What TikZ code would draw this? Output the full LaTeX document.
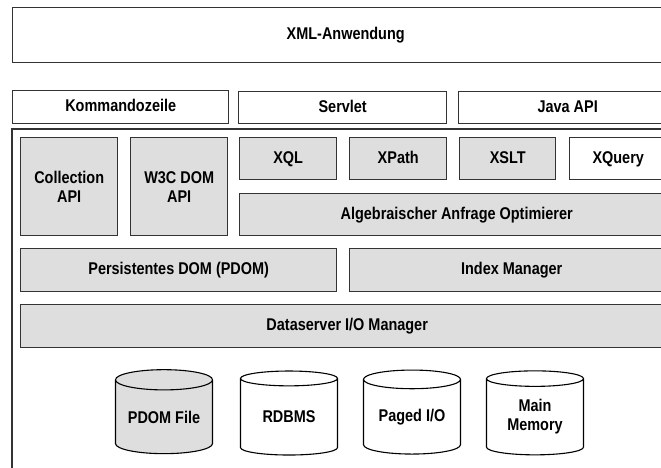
\documentclass[tikz,border=0pt]{standalone}
\usepackage{fontspec}
\setmainfont[FakeStretch=0.85]{Liberation Sans}
\usetikzlibrary{shapes.geometric}

\definecolor{boxgray}{HTML}{DEDEDE}
\definecolor{linegray}{HTML}{333333}

\tikzset{
  layer/.style={draw=linegray, line width=1.4pt, fill=boxgray, inner sep=0pt,
    anchor=north west, align=center, font=\fontsize{17}{19}\selectfont\bfseries},
  plain/.style={layer, fill=white},
  oneline/.style={text height=12.5pt, text depth=3.5pt},
  store/.style={cylinder, shape border rotate=90, aspect=0.28, draw=black,
    line width=1.1pt, fill=white, inner sep=0pt, minimum width=97pt,
    minimum height=84pt, align=center, font=\fontsize{17}{19}\selectfont\bfseries}
}

\begin{document}
\begin{tikzpicture}[x=1pt, y=-1pt]
    \useasboundingbox (0,0) rectangle (661,468);

    % Anwendung
    \node[plain, oneline, minimum width=666pt, minimum height=55pt] (app) at (12,7) {XML-Anwendung};

    % Schnittstellen
    \node[plain, oneline, minimum width=216pt, minimum height=33pt] (cmd) at (12,90) {Kommandozeile};
    \node[plain, oneline, minimum width=208pt, minimum height=32pt] (servlet) at (238,91) {Servlet};
    \node[plain, oneline, minimum width=218pt, minimum height=32pt] (javaapi) at (458,91) {Java API};

    % Rahmen des Servers
    \draw[linegray, line width=1.4pt] (12,480) -- (12,129) -- (690,129);

    % APIs und Anfragesprachen
    \node[layer, minimum width=97pt, minimum height=98pt] (collapi) at (20,137) {Collection\\API};
    \node[layer, minimum width=97pt, minimum height=98pt] (w3c) at (130,137) {W3C DOM\\API};
    \node[layer, oneline, minimum width=97pt, minimum height=42pt] (xql) at (239,137) {XQL};
    \node[layer, oneline, minimum width=97pt, minimum height=42pt] (xpath) at (349,137) {XPath};
    \node[layer, oneline, minimum width=96pt, minimum height=42pt] (xslt) at (459,137) {XSLT};
    \node[plain, oneline, minimum width=97pt, minimum height=42pt] (xquery) at (569,137) {XQuery};
    \node[layer, oneline, minimum width=434pt, minimum height=42pt] (optim) at (239,193) {Algebraischer Anfrage Optimierer};

    % Speicherschicht
    \node[layer, oneline, minimum width=316pt, minimum height=43pt] (pdom) at (20,248) {Persistentes DOM (PDOM)};
    \node[layer, oneline, minimum width=324pt, minimum height=43pt] (index) at (349,248) {Index Manager};
    \node[layer, oneline, minimum width=653pt, minimum height=43pt] (dsio) at (20,304) {Dataserver I/O Manager};

    % Datenquellen
    \node[store, fill=boxgray] (pdomfile) at (164,417) {PDOM File};
    \node[store] (rdbms) at (289,417) {RDBMS};
    \node[store] (paged) at (412,417) {Paged I/O};
    \node[store] (mainmem) at (535,417) {Main\\Memory};
\end{tikzpicture}
\end{document}
